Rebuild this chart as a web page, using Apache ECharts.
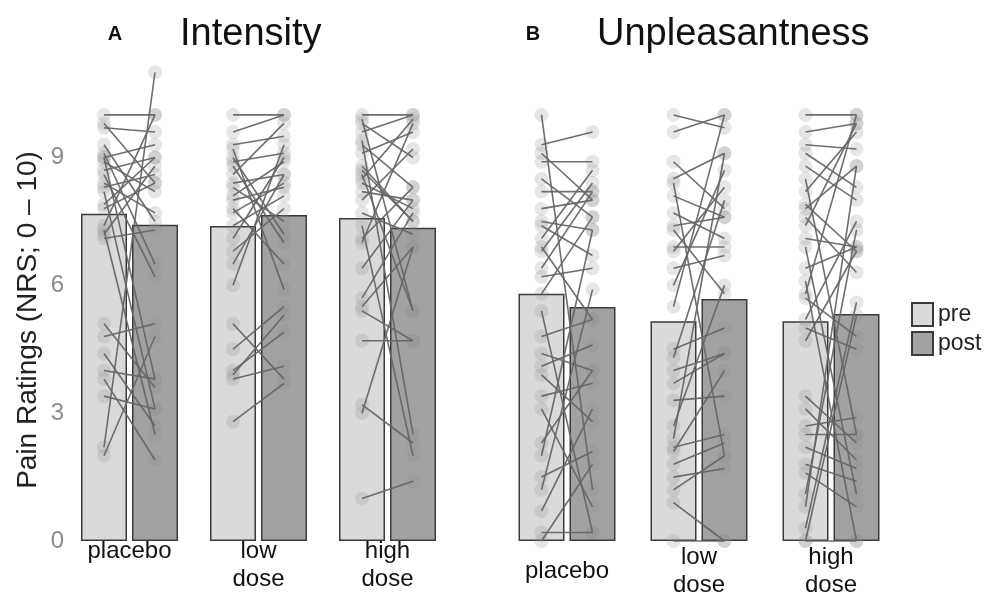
<!DOCTYPE html>
<html><head><meta charset="utf-8">
<script src="https://cdn.jsdelivr.net/npm/echarts@6/dist/echarts.min.js"></script>
<style>html,body{margin:0;padding:0;background:#fff}#c{width:987px;height:597px}</style>
</head><body><div id="c"></div>
<script>
const groups = ['placebo', 'low\ndose', 'high\ndose'];
const yTicks = [0, 3, 6, 9];
const seriesNames = ['pre', 'post'];

// bar heights (group summary)
const intensityBarPre  = [7.68, 7.39, 7.58];
const intensityBarPost = [7.42, 7.65, 7.35];
const unpleasantBarPre  = [5.80, 5.16, 5.16];
const unpleasantBarPost = [5.49, 5.68, 5.33];

// individual paired ratings (pre[i] -> post[i])
const intPlaceboPre  = [10.0, 9.8, 9.7, 9.3, 9.0, 9.0, 8.9, 8.7, 8.4, 8.3, 8.2, 7.9, 7.8, 7.4, 7.3, 7.2, 7.1, 9.1, 8.6, 5.1, 4.8, 4.4, 4.0, 3.8, 3.4, 2.2, 2.0];
const intPlaceboPost = [10.0, 8.4, 9.6, 7.5, 9.3, 3.8, 8.2, 9.0, 7.7, 8.6, 3.1, 9.0, 8.4, 10.0, 2.5, 8.8, 7.3, 6.5, 6.2, 3.6, 5.1, 2.7, 3.8, 1.9, 3.1, 11.0, 4.8];
const intLowPre  = [10.0, 9.6, 9.3, 8.9, 8.8, 8.6, 8.4, 8.3, 8.1, 7.8, 7.7, 7.4, 7.1, 6.8, 6.5, 6.0, 8.0, 9.0, 5.1, 4.5, 4.0, 3.9, 3.8, 2.8, 9.2];
const intLowPost = [10.0, 10.0, 9.5, 9.1, 7.0, 9.8, 8.6, 7.5, 8.9, 6.5, 8.4, 8.1, 9.0, 7.8, 8.6, 9.3, 8.3, 7.2, 3.8, 5.5, 4.9, 5.3, 4.1, 3.7, 5.9];
const intHighPre  = [10.0, 9.8, 9.6, 9.3, 9.1, 8.7, 8.5, 8.2, 8.0, 7.7, 7.1, 7.0, 6.4, 5.7, 5.5, 5.4, 9.9, 8.8, 9.4, 4.7, 3.2, 3.0, 1.0, 7.4, 8.4, 8.6];
const intHighPost = [10.0, 9.0, 10.0, 8.3, 9.6, 7.5, 9.9, 8.0, 9.2, 7.2, 8.3, 9.8, 8.0, 7.7, 6.9, 4.7, 5.4, 7.5, 2.5, 4.7, 2.3, 6.9, 1.4, 2.0, 7.8, 5.4];

const unpPlaceboPre  = [10.0, 9.3, 9.1, 8.9, 8.5, 8.2, 7.8, 7.5, 7.4, 7.1, 6.9, 6.8, 6.4, 6.2, 5.8, 5.4, 4.8, 4.4, 4.1, 3.9, 3.4, 3.1, 2.3, 2.0, 1.5, 1.2, 0.7, 0.2, 0.0];
const unpPlaceboPost = [1.2, 9.6, 8.0, 8.9, 7.6, 8.2, 8.0, 7.3, 6.7, 8.7, 5.2, 8.4, 8.2, 6.4, 7.6, 0.2, 5.2, 4.0, 4.6, 2.8, 3.7, 0.8, 4.0, 7.3, 2.1, 5.9, 3.1, 0.2, 1.8];
const unpLowPre  = [10.0, 9.6, 8.9, 8.5, 8.4, 8.1, 7.7, 7.4, 6.9, 6.8, 6.4, 6.0, 5.5, 4.5, 4.3, 4.0, 3.7, 3.3, 2.7, 2.4, 2.2, 2.1, 1.8, 1.5, 1.2, 0.9, 0.0, 7.3];
const unpLowPost = [9.7, 10.0, 7.8, 9.1, 2.0, 7.6, 7.1, 7.6, 6.9, 8.3, 6.7, 8.7, 10.0, 5.0, 8.0, 4.4, 4.4, 3.4, 6.0, 9.1, 2.5, 4.0, 2.3, 1.7, 2.0, 0.0, 0.0, 5.8];
const unpHighPre  = [10.0, 9.6, 9.3, 9.1, 8.8, 8.5, 8.2, 7.9, 7.8, 7.6, 7.4, 7.1, 6.9, 6.4, 6.1, 5.8, 5.7, 5.2, 5.0, 4.7, 3.4, 3.1, 2.7, 2.5, 2.2, 1.8, 1.6, 1.1, 0.8, 0.3, 0.0, 0.0];
const unpHighPost = [10.0, 9.8, 9.2, 8.3, 8.0, 2.5, 9.6, 6.8, 8.8, 6.3, 9.8, 6.9, 1.1, 6.9, 0.0, 10.0, 4.8, 7.5, 4.5, 6.8, 2.3, 1.9, 2.9, 2.5, 1.7, 1.4, 0.8, 7.3, 8.8, 5.6, 0.0, 5.3];

const FONT = 'Liberation Sans, Arial, sans-serif';
const BAR_W = 46, BAR_GAP = 5;
const PAIR_OFF = (BAR_W + BAR_GAP) / 2;

function pairData(pres, posts) {
  const out = [];
  pres.forEach((pre, g) => pre.forEach((v, i) => out.push([g, v, posts[g][i]])));
  return out;
}
const intensityPairs = pairData([intPlaceboPre, intLowPre, intHighPre], [intPlaceboPost, intLowPost, intHighPost]);
const unpleasantPairs = pairData([unpPlaceboPre, unpLowPre, unpHighPre], [unpPlaceboPost, unpLowPost, unpHighPost]);

function pairSeries(idx, data, kind) {
  return {
    type: 'custom', xAxisIndex: idx, yAxisIndex: idx, data: data, z: kind === 'pts' ? 5 : 6,
    silent: true,
    renderItem: function (params, api) {
      const g = api.value(0);
      const a = api.coord([g, api.value(1)]);
      const b = api.coord([g, api.value(2)]);
      const x0 = a[0] - PAIR_OFF, x1 = b[0] + PAIR_OFF;
      if (kind === 'pts') {
        return { type: 'group', children: [
          { type: 'circle', shape: { cx: x0, cy: a[1], r: 7 }, style: { fill: 'rgba(140,140,140,0.22)' } },
          { type: 'circle', shape: { cx: x1, cy: b[1], r: 7 }, style: { fill: 'rgba(140,140,140,0.22)' } }
        ]};
      }
      return { type: 'line', shape: { x1: x0, y1: a[1], x2: x1, y2: b[1] },
               style: { stroke: '#666666', lineWidth: 1.6, opacity: 0.95 } };
    }
  };
}

function barSeries(idx, name, data, color) {
  return { type: 'bar', name: name, xAxisIndex: idx, yAxisIndex: idx, data: data,
           barWidth: BAR_W, barGap: (BAR_GAP / BAR_W * 100) + '%',
           itemStyle: { color: color, borderColor: '#3a3a3a', borderWidth: 1.5 },
           silent: true, z: 2 };
}

const yMax = 11.5;
const chart = echarts.init(document.getElementById('c'), null, { renderer: 'canvas' });
chart.setOption({
  animation: false,
  backgroundColor: '#fff',
  textStyle: { fontFamily: FONT },
  grid: [
    { left: 65, width: 387, top: 51, height: 490, outerBoundsMode: 'none', containLabel: false },
    { left: 501, width: 396, top: 51, height: 490, outerBoundsMode: 'none', containLabel: false }
  ],
  xAxis: [0, 1].map(i => ({
    type: 'category', gridIndex: i, data: groups,
    axisLine: { show: false }, axisTick: { show: false }, splitLine: { show: false },
    axisLabel: { fontSize: 24, color: '#111', lineHeight: 28, fontFamily: FONT,
                 margin: i === 0 ? -4 : 30, verticalAlign: i === 0 ? 'top' : 'middle' }
  })),
  yAxis: [0, 1].map(i => ({
    type: 'value', gridIndex: i, min: 0, max: yMax, interval: 3,
    axisLine: { show: false }, axisTick: { show: false }, splitLine: { show: false },
    axisLabel: { show: i === 0, fontSize: 24, color: '#8c8c8c', margin: 1, fontFamily: FONT,
                 formatter: v => (yTicks.indexOf(v) >= 0 ? String(v) : '') }
  })),
  legend: {
    data: seriesNames, orient: 'vertical', left: 906, top: 297,
    itemWidth: 21, itemHeight: 23, itemGap: 4, icon: 'rect',
    textStyle: { fontSize: 23, color: '#222', fontFamily: FONT }
  },
  graphic: [
    { type: 'text', x: 115, y: 34, style: { text: 'A', font: 'bold 20px ' + FONT, fill: '#111', align: 'center', verticalAlign: 'middle' } },
    { type: 'text', x: 180, y: 35, style: { text: 'Intensity', font: '38px ' + FONT, fill: '#111', align: 'left', verticalAlign: 'middle' } },
    { type: 'text', x: 533, y: 34, style: { text: 'B', font: 'bold 20px ' + FONT, fill: '#111', align: 'center', verticalAlign: 'middle' } },
    { type: 'text', x: 597, y: 35, style: { text: 'Unpleasantness', font: '38px ' + FONT, fill: '#111', align: 'left', verticalAlign: 'middle' } },
    { type: 'text', x: 28, y: 320, rotation: Math.PI / 2,
      style: { text: 'Pain Ratings (NRS; 0 \u2013 10)', font: '28px ' + FONT, fill: '#222',
               align: 'center', verticalAlign: 'middle' } }
  ],
  series: [
    barSeries(0, 'pre', intensityBarPre, '#dadada'),
    barSeries(0, 'post', intensityBarPost, '#a2a2a2'),
    barSeries(1, 'pre', unpleasantBarPre, '#dadada'),
    barSeries(1, 'post', unpleasantBarPost, '#a2a2a2'),
    pairSeries(0, intensityPairs, 'pts'),
    pairSeries(0, intensityPairs, 'lines'),
    pairSeries(1, unpleasantPairs, 'pts'),
    pairSeries(1, unpleasantPairs, 'lines')
  ]
});
</script></body></html>
